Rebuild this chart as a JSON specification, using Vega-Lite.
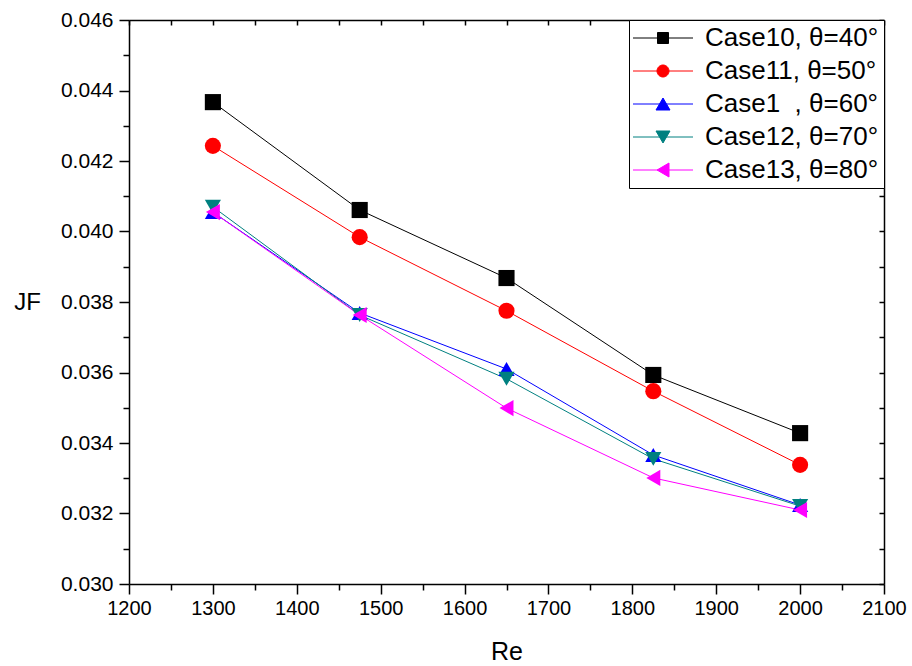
{
  "$schema": "https://vega.github.io/schema/vega-lite/v6.json",
  "width": 755,
  "height": 564,
  "autosize": {"type": "none"},
  "padding": {"left": 129, "top": 20, "right": 28, "bottom": 82},
  "config": {
    "view": {"stroke": null},
    "font": "Liberation Sans",
    "axis": {"grid": false, "domainColor": "#000000", "domainWidth": 1.5, "tickColor": "#000000", "tickWidth": 1.5, "labelColor": "#000000", "titleColor": "#000000", "labelFont": "Liberation Sans", "titleFont": "Liberation Sans", "titleFontWeight": "normal"},
    "legend": {"labelFont": "Liberation Sans"}
  },
  "data": {
    "values": [
      {"Re": 1300, "JF": 0.04367, "series": "Case10, θ=40°"},
      {"Re": 1475, "JF": 0.04061, "series": "Case10, θ=40°"},
      {"Re": 1650, "JF": 0.03868, "series": "Case10, θ=40°"},
      {"Re": 1825, "JF": 0.03593, "series": "Case10, θ=40°"},
      {"Re": 2000, "JF": 0.03428, "series": "Case10, θ=40°"},
      {"Re": 1300, "JF": 0.04243, "series": "Case11, θ=50°"},
      {"Re": 1475, "JF": 0.03984, "series": "Case11, θ=50°"},
      {"Re": 1650, "JF": 0.03775, "series": "Case11, θ=50°"},
      {"Re": 1825, "JF": 0.03547, "series": "Case11, θ=50°"},
      {"Re": 2000, "JF": 0.03338, "series": "Case11, θ=50°"},
      {"Re": 1300, "JF": 0.04055, "series": "Case1\u00a0\u00a0, θ=60°"},
      {"Re": 1475, "JF": 0.03769, "series": "Case1\u00a0\u00a0, θ=60°"},
      {"Re": 1650, "JF": 0.03610, "series": "Case1\u00a0\u00a0, θ=60°"},
      {"Re": 1825, "JF": 0.03366, "series": "Case1\u00a0\u00a0, θ=60°"},
      {"Re": 2000, "JF": 0.03224, "series": "Case1\u00a0\u00a0, θ=60°"},
      {"Re": 1300, "JF": 0.04070, "series": "Case12, θ=70°"},
      {"Re": 1475, "JF": 0.03763, "series": "Case12, θ=70°"},
      {"Re": 1650, "JF": 0.03582, "series": "Case12, θ=70°"},
      {"Re": 1825, "JF": 0.03355, "series": "Case12, θ=70°"},
      {"Re": 2000, "JF": 0.03221, "series": "Case12, θ=70°"},
      {"Re": 1300, "JF": 0.04055, "series": "Case13, θ=80°"},
      {"Re": 1475, "JF": 0.03763, "series": "Case13, θ=80°"},
      {"Re": 1650, "JF": 0.03499, "series": "Case13, θ=80°"},
      {"Re": 1825, "JF": 0.03301, "series": "Case13, θ=80°"},
      {"Re": 2000, "JF": 0.03210, "series": "Case13, θ=80°"}
    ]
  },
  "resolve": {"axis": {"x": "independent", "y": "independent"}},
  "layer": [
    {
      "mark": {"type": "line", "strokeWidth": 1},
      "encoding": {
        "x": {"field": "Re", "type": "quantitative", "scale": {"domain": [1200, 2100], "nice": false, "zero": false},
          "axis": {"orient": "bottom", "values": [1200, 1300, 1400, 1500, 1600, 1700, 1800, 1900, 2000, 2100], "format": "d", "tickSize": 10, "labelPadding": 4, "labelFontSize": 20, "labelFlush": false, "title": "Re", "titleFontSize": 25, "titleY": 67, "titleBaseline": "middle"}},
        "y": {"field": "JF", "type": "quantitative", "scale": {"domain": [0.030, 0.046], "nice": false, "zero": false},
          "axis": {"orient": "left", "values": [0.030, 0.032, 0.034, 0.036, 0.038, 0.040, 0.042, 0.044, 0.046], "format": ".3f", "tickSize": 10, "labelPadding": 6, "labelFontSize": 21, "labelFlush": false, "title": "JF", "titleFontSize": 24, "titleAngle": 0, "titleX": -102, "titleY": 282, "titleAlign": "center", "titleBaseline": "middle"}},
        "color": {"field": "series", "type": "nominal",
          "scale": {"domain": ["Case10, θ=40°", "Case11, θ=50°", "Case1\u00a0\u00a0, θ=60°", "Case12, θ=70°", "Case13, θ=80°"], "range": ["#000000", "#FF0000", "#0000FF", "#008080", "#FF00FF"]},
          "legend": {"title": null, "orient": "top-right", "offset": 0, "padding": 5, "strokeColor": "#000000", "fillColor": "#FFFFFF", "cornerRadius": 0,
            "symbolSize": 400, "symbolOffset": 16, "labelOffset": 29, "labelFontSize": 26, "labelColor": "#000000", "labelLimit": 0, "rowPadding": 7,
            "symbolStrokeWidth": 1, "symbolOpacity": 1,
            "encode": {"symbols": {"update": {
              "fill": {"signal": "scale('color', datum.value)"},
              "stroke": {"signal": "scale('color', datum.value)"},
              "size": {"value": 400},
              "shape": {"signal": "['M-3,0H3M-0.55,-0.55H0.55V0.55H-0.55Z', 'M-3,0H3M-0.6,0A0.6,0.6 0 1,0 0.6,0A0.6,0.6 0 1,0 -0.6,0Z', 'M-3,0H3M0,-0.6L0.7,0.6L-0.7,0.6Z', 'M-3,0H3M0,0.6L0.7,-0.6L-0.7,-0.6Z', 'M-3,0H3M-0.6,0L0.6,-0.7L0.6,0.7Z'][datum.index]"}
            }}}}
        }
      }
    },
    {
      "mark": {"type": "point", "filled": true, "opacity": 1},
      "encoding": {
        "x": {"field": "Re", "type": "quantitative", "axis": {"orient": "bottom", "values": [1250, 1350, 1450, 1550, 1650, 1750, 1850, 1950, 2050], "tickSize": 6, "labels": false, "domain": false, "title": null}},
        "y": {"field": "JF", "type": "quantitative", "axis": {"orient": "left", "values": [0.031, 0.033, 0.035, 0.037, 0.039, 0.041, 0.043, 0.045], "tickSize": 6, "labels": false, "domain": false, "title": null}},
        "color": {"field": "series", "type": "nominal"},
        "size": {"field": "series", "type": "nominal", "legend": null,
          "scale": {"domain": ["Case13, θ=80°", "Case12, θ=70°", "Case1\u00a0\u00a0, θ=60°", "Case11, θ=50°", "Case10, θ=40°"], "range": [260, 260, 260, 180, 160]}},
        "shape": {"field": "series", "type": "nominal", "legend": null,
          "scale": {"domain": ["Case13, θ=80°", "Case12, θ=70°", "Case1\u00a0\u00a0, θ=60°", "Case11, θ=50°", "Case10, θ=40°"], "range": ["triangle-left", "triangle-down", "triangle-up", "circle", "square"]}}
      }
    },
    {
      "transform": [{"filter": "datum.Re < 0"}],
      "mark": {"type": "point"},
      "encoding": {
        "x": {"field": "Re", "type": "quantitative", "axis": {"orient": "top", "values": [1200, 1250, 1300, 1350, 1400, 1450, 1500, 1550, 1600, 1650, 1700, 1750, 1800, 1850, 1900, 1950, 2000, 2050, 2100], "tickSize": -5, "labels": false, "title": null}},
        "y": {"field": "JF", "type": "quantitative", "axis": {"orient": "right", "values": [0.030, 0.031, 0.032, 0.033, 0.034, 0.035, 0.036, 0.037, 0.038, 0.039, 0.040, 0.041, 0.042, 0.043, 0.044, 0.045, 0.046], "tickSize": -5, "labels": false, "title": null}}
      }
    }
  ]
}
